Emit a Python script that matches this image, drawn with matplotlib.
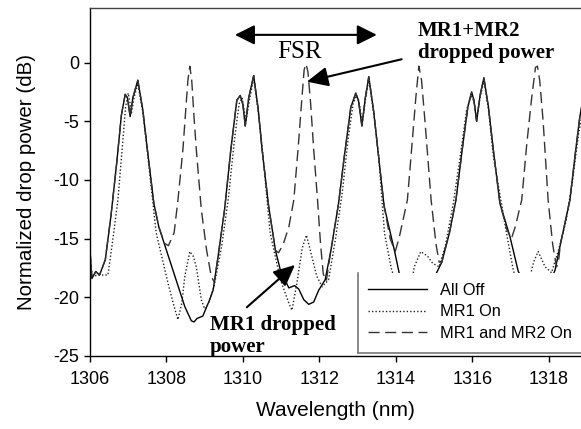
"""Normalized drop power vs wavelength for MR1 / MR2 states."""

import matplotlib
matplotlib.use("Agg")
import matplotlib.pyplot as plt
from matplotlib.patches import Rectangle

plt.rcParams.update({
    "font.family": "Liberation Sans",
    "font.size": 13,
    "axes.linewidth": 1.0,
    "axes.unicode_minus": False,
})

SERIF = "Liberation Serif"

# All Off (solid)
off_x = [1306.00, 1306.05, 1306.15, 1306.25, 1306.40, 1306.55, 1306.70, 1306.82, 1306.92, 1306.98,
         1307.05, 1307.12, 1307.25, 1307.38, 1307.50, 1307.67, 1307.80, 1307.95, 1308.10, 1308.30,
         1308.48, 1308.65, 1308.72, 1308.80, 1308.95, 1309.13, 1309.22, 1309.35, 1309.52, 1309.68,
         1309.84, 1309.93, 1310.00, 1310.06, 1310.15, 1310.28, 1310.40, 1310.50, 1310.67, 1310.85,
         1310.98, 1311.20, 1311.35, 1311.46, 1311.59, 1311.72, 1311.85, 1311.98, 1312.15, 1312.30,
         1312.50, 1312.65, 1312.82, 1312.95, 1313.02, 1313.11, 1313.20, 1313.29, 1313.42, 1313.53,
         1313.69, 1313.96, 1314.09, 1314.30, 1314.60, 1314.90, 1315.20, 1315.40, 1315.57, 1315.75,
         1315.88, 1315.98, 1316.04, 1316.11, 1316.20, 1316.30, 1316.42, 1316.55, 1316.72, 1316.98,
         1317.20, 1317.50, 1317.80, 1318.05, 1318.16, 1318.30, 1318.55, 1318.70, 1318.81, 1318.90]
off_y = [-16.0, -18.4, -17.8, -18.1, -16.8, -13.0, -8.5, -4.5, -2.7, -3.0,
         -4.6, -3.0, -1.5, -4.0, -7.4, -12.0, -14.0, -15.5, -17.0, -19.0,
         -20.8, -22.0, -22.1, -21.8, -21.6, -20.2, -19.4, -16.5, -12.5, -7.5,
         -3.2, -2.8, -3.6, -5.4, -3.0, -1.1, -4.0, -7.4, -12.2, -16.0,
         -17.7, -19.2, -19.0, -19.3, -20.2, -20.6, -20.4, -19.4, -18.5, -16.0,
         -12.0, -8.0, -3.8, -2.6, -3.2, -5.4, -3.0, -1.2, -4.2, -7.5,
         -12.2, -16.0, -18.0, -20.0, -20.5, -19.0, -17.0, -14.5, -11.7, -7.0,
         -3.8, -2.5, -3.2, -5.0, -2.8, -1.3, -3.8, -7.5, -12.0, -14.8,
         -17.8, -19.5, -19.8, -18.5, -17.7, -15.5, -11.7, -7.5, -4.6, -3.0]

# MR1 On (dotted)
mr1_x = [1306.00, 1306.10, 1306.20, 1306.47, 1306.60, 1306.73, 1306.85, 1306.93, 1307.00, 1307.05,
         1307.08, 1307.15, 1307.25, 1307.38, 1307.50, 1307.73, 1308.04, 1308.20, 1308.30, 1308.40,
         1308.48, 1308.61, 1308.70, 1308.78, 1308.91, 1309.00, 1309.10, 1309.25, 1309.45, 1309.62,
         1309.78, 1309.90, 1309.98, 1310.08, 1310.17, 1310.28, 1310.40, 1310.52, 1310.71, 1310.98,
         1311.20, 1311.28, 1311.40, 1311.55, 1311.66, 1311.80, 1311.93, 1312.07, 1312.24, 1312.42,
         1312.60, 1312.75, 1312.88, 1312.97, 1313.05, 1313.12, 1313.20, 1313.29, 1313.42, 1313.55,
         1313.70, 1313.87, 1314.05, 1314.25, 1314.40, 1314.48, 1314.65, 1314.83, 1314.96, 1315.13,
         1315.30, 1315.50, 1315.68, 1315.85, 1315.97, 1316.04, 1316.11, 1316.20, 1316.30, 1316.42,
         1316.55, 1316.89, 1317.07, 1317.25, 1317.45, 1317.60, 1317.72, 1317.90, 1318.07, 1318.25,
         1318.45, 1318.62, 1318.78, 1318.90]
mr1_y = [-17.5, -18.2, -18.1, -18.1, -15.0, -11.7, -7.0, -3.8, -2.6, -3.5,
         -4.4, -3.0, -1.8, -4.2, -7.6, -14.5, -18.8, -20.8, -21.9, -20.5,
         -18.2, -16.1, -16.5, -17.4, -20.2, -21.0, -20.5, -19.0, -15.5, -11.5,
         -6.5, -3.5, -3.0, -5.0, -3.2, -1.3, -4.2, -7.8, -14.5, -18.5,
         -20.5, -21.1, -19.0, -15.8, -14.7, -16.5, -18.2, -19.1, -18.5, -15.0,
         -11.0, -6.5, -3.5, -2.8, -3.6, -5.2, -3.2, -1.4, -4.3, -8.0,
         -14.5, -17.4, -19.5, -20.5, -19.0, -17.4, -16.1, -16.5, -17.1, -17.4,
         -15.5, -12.0, -8.0, -4.0, -2.8, -3.3, -4.8, -3.0, -1.5, -4.0,
         -8.0, -14.5, -17.7, -19.5, -19.0, -17.0, -16.1, -17.4, -17.9, -16.0,
         -13.5, -10.0, -6.0, -4.0]

# MR1 and MR2 On (dashed)
mr12_x = [1306.00, 1306.05, 1306.15, 1306.25, 1306.40, 1306.55, 1306.70, 1306.82, 1306.92, 1306.98,
          1307.05, 1307.12, 1307.25, 1307.38, 1307.50, 1307.67, 1307.80, 1307.95, 1308.05, 1308.20,
          1308.30, 1308.43, 1308.50, 1308.56, 1308.61, 1308.66, 1308.72, 1308.78, 1308.91, 1309.05,
          1309.17, 1309.25, 1309.35, 1309.52, 1309.68, 1309.84, 1309.93, 1310.00, 1310.06, 1310.15,
          1310.28, 1310.40, 1310.50, 1310.67, 1310.85, 1310.93, 1311.05, 1311.20, 1311.33, 1311.45,
          1311.53, 1311.60, 1311.65, 1311.70, 1311.77, 1311.85, 1311.95, 1312.03, 1312.10, 1312.18,
          1312.30, 1312.50, 1312.65, 1312.82, 1312.95, 1313.02, 1313.11, 1313.20, 1313.29, 1313.42,
          1313.53, 1313.69, 1313.85, 1313.98, 1314.08, 1314.18, 1314.30, 1314.42, 1314.52, 1314.60,
          1314.67, 1314.76, 1314.92, 1315.05, 1315.13, 1315.20, 1315.40, 1315.57, 1315.75, 1315.88,
          1315.98, 1316.04, 1316.11, 1316.20, 1316.30, 1316.42, 1316.55, 1316.72, 1316.90, 1317.02,
          1317.12, 1317.29, 1317.42, 1317.55, 1317.65, 1317.70, 1317.76, 1317.85, 1317.98, 1318.10,
          1318.20, 1318.25, 1318.30, 1318.55, 1318.70, 1318.81, 1318.90]
mr12_y = [-16.0, -18.4, -17.8, -18.1, -16.8, -13.0, -8.5, -4.5, -2.7, -3.0,
          -4.6, -3.0, -1.5, -4.0, -7.4, -12.0, -14.0, -15.4, -15.6, -14.5,
          -11.7, -7.4, -4.2, -1.5, -0.3, -1.5, -4.6, -7.4, -12.5, -16.0,
          -18.2, -18.7, -16.5, -12.5, -7.5, -3.2, -2.8, -3.6, -5.4, -3.0,
          -1.1, -4.0, -7.4, -12.2, -16.0, -16.2, -15.5, -14.0, -11.7, -7.0,
          -3.5, -0.6, -0.1, -0.8, -3.5, -7.4, -11.7, -15.5, -18.0, -18.6,
          -16.0, -12.0, -8.0, -3.8, -2.6, -3.2, -5.4, -3.0, -1.2, -4.2,
          -7.5, -12.2, -15.0, -16.1, -15.0, -13.5, -11.7, -7.0, -3.0, -0.3,
          -1.5, -5.0, -11.7, -15.5, -17.0, -17.0, -14.5, -11.7, -7.0, -3.8,
          -2.5, -3.2, -5.0, -2.8, -1.3, -3.8, -7.5, -12.0, -14.2, -15.0,
          -14.0, -11.7, -7.0, -3.0, -0.4, -0.3, -1.5, -5.0, -11.7, -15.5,
          -17.4, -17.0, -15.5, -11.7, -7.5, -4.6, -3.0]

x_ticks = [1306, 1308, 1310, 1312, 1314, 1316, 1318]
y_ticks = [-25, -20, -15, -10, -5, 0]

fig = plt.figure(figsize=(5.81, 4.29), dpi=100)
ax = fig.add_axes([0.1549, 0.1702, 0.8451, 0.8112])

ax.plot(off_x, off_y, color="black", lw=1.0, linestyle="-", label="All Off")
ax.plot(mr1_x, mr1_y, color="#222222", lw=1.0, linestyle=(0, (1, 1.5)), label="MR1 On")
ax.plot(mr12_x, mr12_y, color="#333333", lw=1.0, linestyle=(0, (8, 4)), label="MR1 and MR2 On")

ax.set_xlim(1306, 1318.84)
ax.set_ylim(-25, 4.66)
ax.set_xticks(x_ticks)
ax.set_yticks(y_ticks)
ax.tick_params(axis="x", direction="out", length=4, width=1, pad=7, labelsize=13)
ax.tick_params(axis="y", direction="out", length=4, width=1, pad=4, labelsize=13)
ax.spines["right"].set_visible(False)
ax.spines["top"].set_color("#444444")

ax.set_xlabel("Wavelength (nm)", fontsize=15, labelpad=9)
ax.set_ylabel("Normalized drop power (dB)", fontsize=14.8, labelpad=12)

# legend box (white, only left and bottom edge drawn)
ax.add_patch(Rectangle((0.5464, 0.0078), 0.6, 0.2298, transform=ax.transAxes,
                       facecolor="white", edgecolor="none", zorder=5))
ax.plot([0.5464, 0.5464], [0.0078, 0.2376], transform=ax.transAxes,
        color="#777777", lw=1.2, zorder=6)
ax.plot([0.5464, 1.0], [0.0078, 0.0078], transform=ax.transAxes,
        color="#777777", lw=1.2, zorder=6)
leg = ax.legend(loc="upper left", bbox_to_anchor=(0.566, 0.21), frameon=False,
                fontsize=11.8, handlelength=3.6, handletextpad=0.8, labelspacing=0.4,
                borderpad=0, borderaxespad=0)
leg.set_zorder(7)

# FSR double arrow
ax.annotate("", xy=(1309.79, 2.37), xytext=(1313.5, 2.37),
            arrowprops=dict(arrowstyle="<|-|>,head_length=0.6,head_width=0.3",
                            color="black", lw=1.5, mutation_scale=20,
                            shrinkA=0, shrinkB=0))
ax.text(1311.47, 0.38, "FSR", family=SERIF, fontsize=18, ha="center", va="baseline")

# MR1+MR2 dropped power
ax.annotate("", xy=(1311.67, -1.62), xytext=(1314.15, 0.29),
            arrowprops=dict(arrowstyle="-|>,head_length=0.65,head_width=0.3",
                            color="black", lw=1.5, mutation_scale=20,
                            shrinkA=0, shrinkB=0))
ax.text(1314.575, 2.28, "MR1+MR2", family=SERIF, fontweight="bold", fontsize=15,
        ha="left", va="baseline")
ax.text(1314.575, 0.38, "dropped power", family=SERIF, fontweight="bold", fontsize=15,
        ha="left", va="baseline")

# MR1 dropped power
ax.annotate("", xy=(1311.36, -17.24), xytext=(1310.1, -20.85),
            arrowprops=dict(arrowstyle="-|>,head_length=0.65,head_width=0.3",
                            color="black", lw=1.5, mutation_scale=20,
                            shrinkA=0, shrinkB=0))
ax.text(1309.14, -22.78, "MR1 dropped", family=SERIF, fontweight="bold", fontsize=15,
        ha="left", va="baseline")
ax.text(1309.14, -24.63, "power", family=SERIF, fontweight="bold", fontsize=15,
        ha="left", va="baseline", clip_on=False)

fig.savefig("out.png", dpi=100)
